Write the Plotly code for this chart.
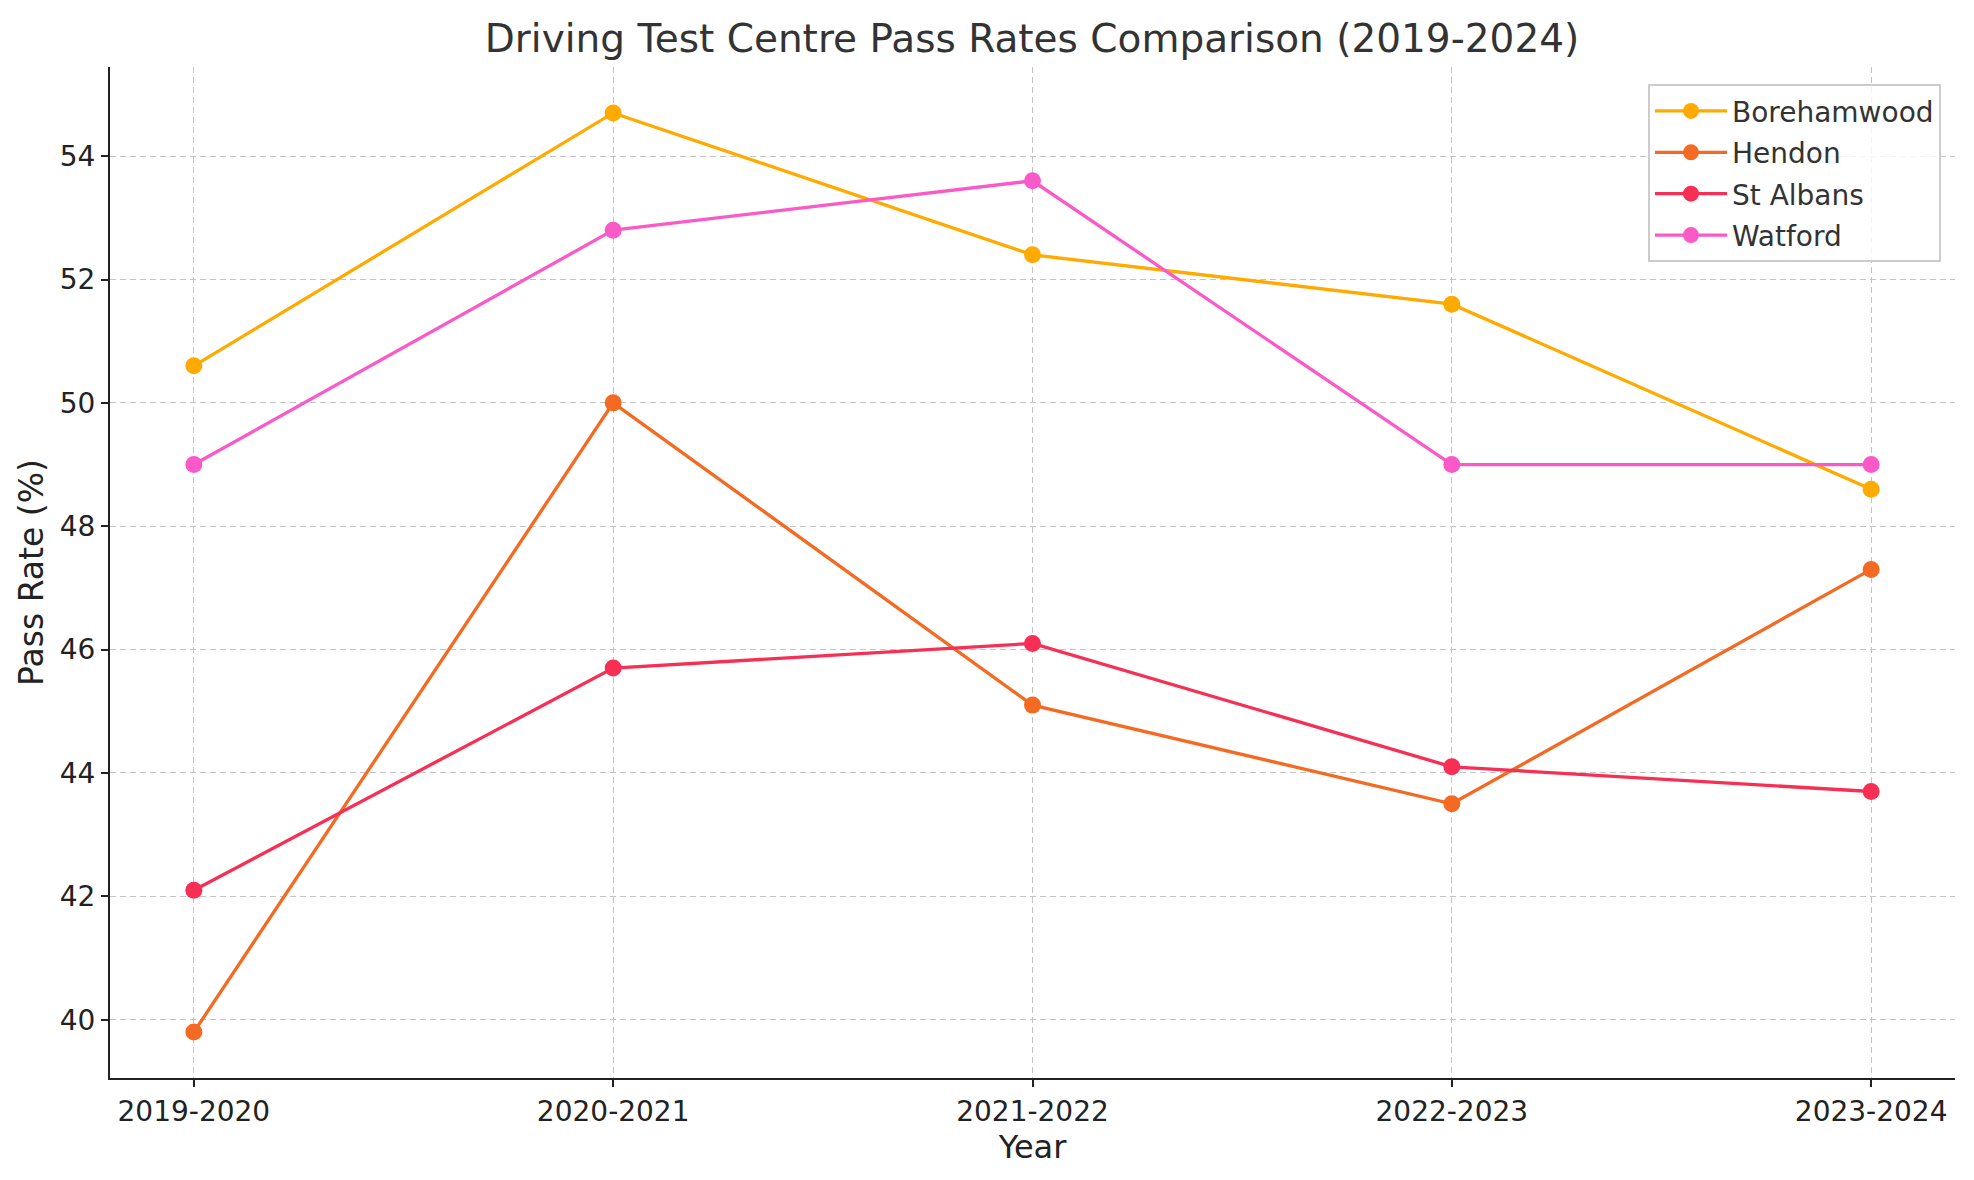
import plotly.graph_objects as go

years = ["2019-2020", "2020-2021", "2021-2022", "2022-2023", "2023-2024"]
borehamwood = [50.6, 54.7, 52.4, 51.6, 48.6]
hendon = [39.8, 50.0, 45.1, 43.5, 47.3]
st_albans = [42.1, 45.7, 46.1, 44.1, 43.7]
watford = [49.0, 52.8, 53.6, 49.0, 49.0]

series = [
    ("Borehamwood", borehamwood, "#FFAA00"),
    ("Hendon", hendon, "#F46A22"),
    ("St Albans", st_albans, "#F72F55"),
    ("Watford", watford, "#FA5AC8"),
]

fig = go.Figure()
for name, vals, col in series:
    fig.add_trace(go.Scatter(
        x=list(range(len(years))), y=vals, name=name, mode="lines+markers",
        line=dict(color=col, width=3.3), marker=dict(color=col, size=17),
        legendgroup=name,
    ))

W, H = 1958, 1164
L, R, T, B = 102, 11, 59, 94
font = "DejaVu Sans, Verdana, sans-serif"
fig.update_layout(
    width=W, height=H,
    margin=dict(l=L, r=R, t=T, b=B),
    plot_bgcolor="white", paper_bgcolor="white",
    font=dict(family=font, color="#222222"),
    title=dict(text="Driving Test Centre Pass Rates Comparison (2019-2024)",
               x=1024 / W, xanchor="center", y=1 - 30 / H, yanchor="middle",
               font=dict(size=39, color="#333333")),
    legend=dict(x=0.9924, xanchor="right", y=0.983, yanchor="top",
                bgcolor="rgba(255,255,255,0.8)", bordercolor="#CCCCCC", borderwidth=2,
                font=dict(size=28, color="#333333"), tracegroupgap=2, itemwidth=72),
    showlegend=True,
)
fig.update_xaxes(
    tickmode="array", tickvals=list(range(len(years))), ticktext=years,
    range=[-0.2, 4.2], showline=True, linecolor="#222222", linewidth=2,
    ticks="outside", ticklen=7, tickwidth=1.5, tickcolor="#222222",
    showgrid=True, gridcolor="#C4C4C4", gridwidth=1.3, griddash="6px,4px",
    zeroline=False, tickfont=dict(size=28, color="#222222"), automargin=False,
    title=dict(text="Year", font=dict(size=32, color="#222222"), standoff=2),
)
fig.update_yaxes(
    range=[39.055, 55.445], tickvals=[40, 42, 44, 46, 48, 50, 52, 54],
    showline=True, linecolor="#222222", linewidth=2,
    ticks="outside", ticklen=7, tickwidth=1.5, tickcolor="#222222",
    showgrid=True, gridcolor="#C4C4C4", gridwidth=1.3, griddash="6px,4px",
    zeroline=False, tickfont=dict(size=28, color="#222222"), automargin=False,
    title=dict(text="Pass Rate (%)", font=dict(size=33, color="#222222"), standoff=6),
)

fig.write_html("out.html")
